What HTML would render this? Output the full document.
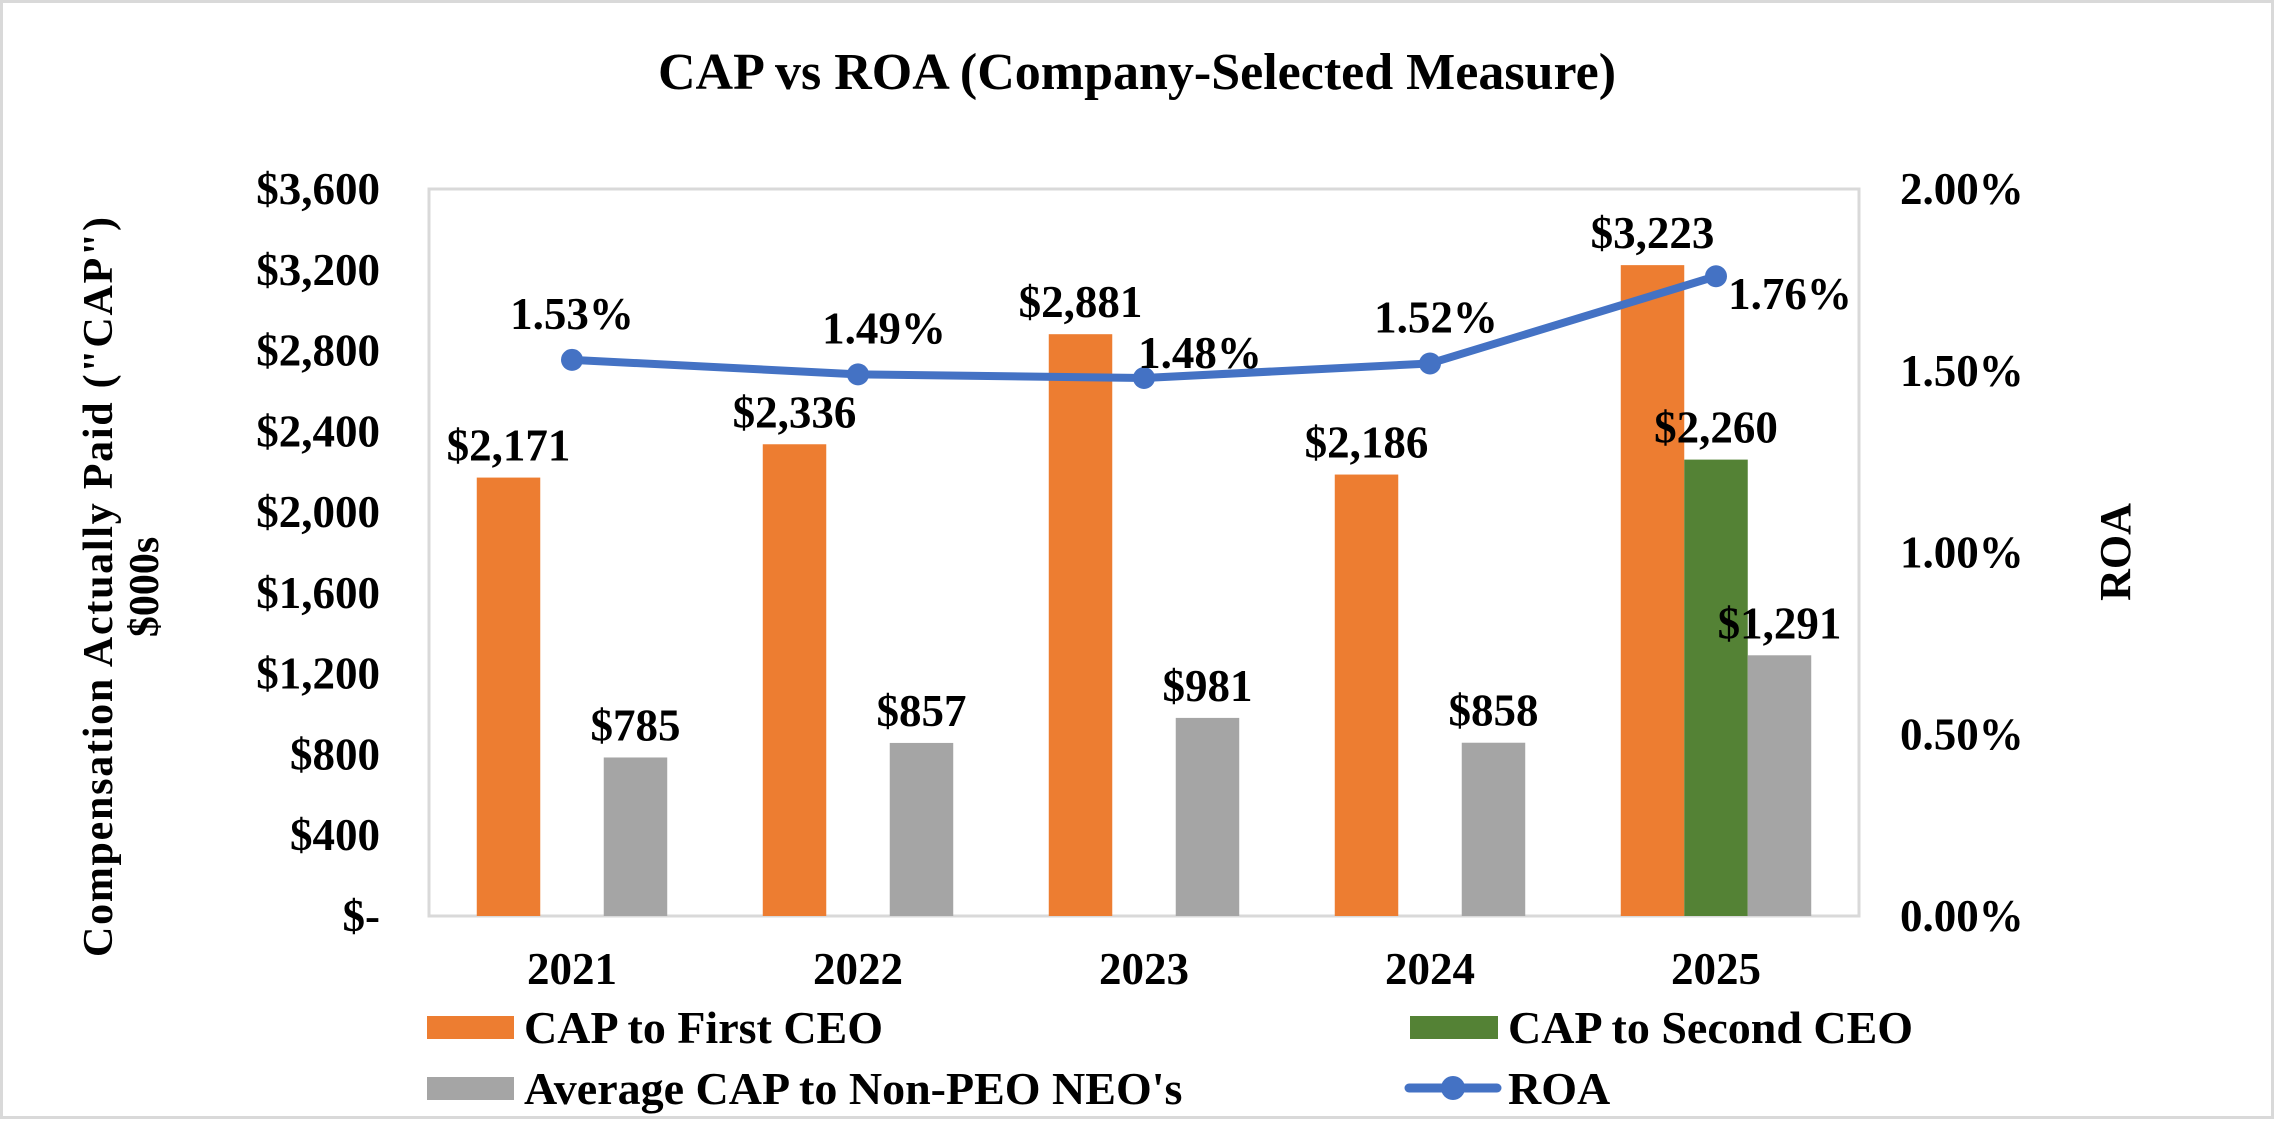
<!DOCTYPE html>
<html><head><meta charset="utf-8"><style>
html,body{margin:0;padding:0;background:#fff}
svg{display:block}
svg text{font-family:"Liberation Serif","Times New Roman","DejaVu Serif",serif;font-weight:bold;fill:#000}
</style></head><body>
<svg id="chart" width="2274" height="1121" viewBox="0 0 2274 1121" font-family="'Liberation Serif', 'DejaVu Serif', serif" font-weight="bold">
<rect x="1.5" y="1.5" width="2271" height="1116" fill="#fff" stroke="#d9d9d9" stroke-width="3"/>
<text x="1137" y="89" font-size="52" text-anchor="middle">CAP vs ROA (Company-Selected Measure)</text>
<rect x="429" y="189" width="1430" height="727" fill="#fff" stroke="#d9d9d9" stroke-width="3"/>
<g id="yticks"></g><g id="rticks"></g><g id="xticks"></g><g id="bars"></g><g id="line"></g><g id="labels"></g>
<text transform="translate(112,587) rotate(-90)" font-size="42" text-anchor="middle" textLength="740" lengthAdjust="spacing">Compensation Actually Paid ("CAP")</text>
<text transform="translate(158,587) rotate(-90)" font-size="42" text-anchor="middle">$000s</text>
<text transform="translate(2130,552) rotate(-90)" font-size="44" text-anchor="middle">ROA</text>
<g>
<rect x="427" y="1016" width="87" height="23" fill="#ed7d31"/>
<text x="524" y="1043" font-size="46">CAP to First CEO</text>
<rect x="1410" y="1016" width="88" height="23" fill="#548235"/>
<text x="1508" y="1043" font-size="46">CAP to Second CEO</text>
<rect x="427" y="1077" width="87" height="23" fill="#a5a5a5"/>
<text x="524" y="1104" font-size="46">Average CAP to Non-PEO NEO's</text>
<line x1="1409" y1="1088" x2="1497" y2="1088" stroke="#4472c4" stroke-width="9" stroke-linecap="round"/>
<circle cx="1453" cy="1088" r="12" fill="#4472c4"/>
<text x="1508" y="1104" font-size="46">ROA</text>
</g>
</svg>
<script>
const categories=["2021","2022","2023","2024","2025"];
const firstCEO=[2171,2336,2881,2186,3223];
const secondCEO=[null,null,null,null,2260];
const nonPEO=[785,857,981,858,1291];
const roa=[1.53,1.49,1.48,1.52,1.76];
const leftTicks=[0,400,800,1200,1600,2000,2400,2800,3200,3600];
const leftTickLabels=["$-","$400","$800","$1,200","$1,600","$2,000","$2,400","$2,800","$3,200","$3,600"];
const rightTicks=[0,0.5,1,1.5,2];
const rightTickLabels=["0.00%","0.50%","1.00%","1.50%","2.00%"];

const NS="http://www.w3.org/2000/svg";
const L=429,R=1859,T=189,B=916;
const yL=v=>B-(v/3600)*(B-T);
const yR=v=>B-(v/2)*(B-T);
const step=(R-L)/categories.length;
const xC=i=>L+step*(i+0.5);
const bw=step*0.222;
function mk(tag,attrs,parent,txt){const e=document.createElementNS(NS,tag);for(const k in attrs)e.setAttribute(k,attrs[k]);if(txt!==undefined)e.textContent=txt;document.getElementById(parent).appendChild(e);return e;}
const fmt=v=>"$"+v.toLocaleString("en-US");

leftTicks.forEach((v,i)=>{const t=mk("text",{x:380,y:yL(v)+15,"font-size":45,"text-anchor":"end"},"yticks",leftTickLabels[i]);

});
rightTicks.forEach((v,i)=>{const t=mk("text",{x:1900,y:yR(v)+15,"font-size":45},"rticks",rightTickLabels[i]);

});
categories.forEach((c,i)=>{const t=mk("text",{x:xC(i),y:984,"font-size":45,"text-anchor":"middle"},"xticks",c);

});

const series=[[firstCEO,"#ed7d31",-1.5,"bar-first-ceo"],[secondCEO,"#548235",-0.5,"bar-second-ceo"],[nonPEO,"#a5a5a5",0.5,"bar-non-peo"]];
series.forEach(([arr,col,off,name])=>{arr.forEach((v,i)=>{if(v==null)return;
const x=xC(i)+off*bw;
const r=mk("rect",{x:x,y:yL(v),width:bw,height:B-yL(v),fill:col},"bars");


const t=mk("text",{x:x+bw/2,y:yL(v)-17,"font-size":45,"text-anchor":"middle"},"labels",fmt(v));

});});

const pts=roa.map((v,i)=>xC(i)+","+yR(v)).join(" ");
const pl=mk("polyline",{points:pts,fill:"none",stroke:"#4472c4","stroke-width":8,"stroke-linejoin":"round"},"line");


const lblOff=[[0,-31],[26,-31],[56,-10],[6,-31],[74,33]];
roa.forEach((v,i)=>{const c=mk("circle",{cx:xC(i),cy:yR(v),r:11,fill:"#4472c4"},"line");


const t=mk("text",{x:xC(i)+lblOff[i][0],y:yR(v)+lblOff[i][1],"font-size":45,"text-anchor":"middle"},"labels",v.toFixed(2)+"%");

});
</script>
</body></html>
